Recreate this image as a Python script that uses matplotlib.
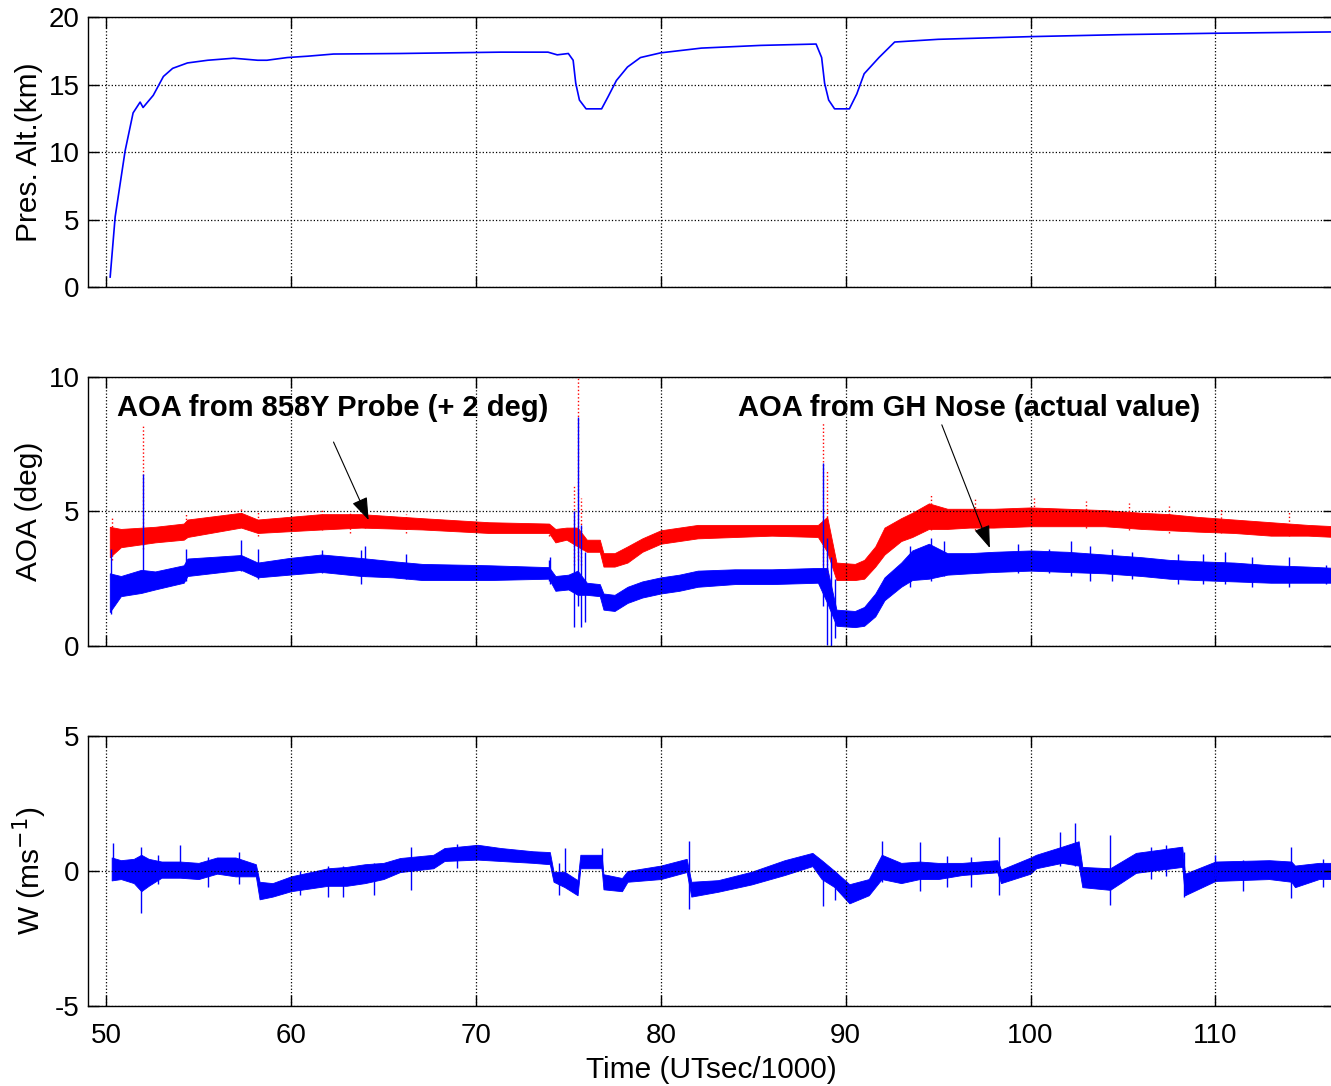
import matplotlib
matplotlib.use("Agg")
import matplotlib.pyplot as plt

plt.rcParams['font.family'] = ['Liberation Sans', 'DejaVu Sans']
plt.rcParams['font.size'] = 20
plt.rcParams['axes.unicode_minus'] = False

# pressure altitude (km) vs time (UTsec/1000)
alt_t = [50.22, 50.49, 51.03, 51.46, 51.84, 52.0, 52.55, 53.1, 53.6, 54.4, 55.5, 56.9, 58.2, 58.7,
         59.8, 60.9, 62.3, 65.9, 71.35, 73.9, 74.4, 75.0, 75.26, 75.4, 75.6, 75.96, 76.8, 77.15,
         77.6, 78.2, 78.9, 80.0, 82.2, 85.4, 88.4, 88.7, 88.86, 89.08, 89.4, 90.2, 90.6, 91.0,
         91.8, 92.65, 95.0, 100.0, 105.0, 110.0, 116.5]
alt_v = [0.74, 5.2, 10.1, 12.9, 13.7, 13.3, 14.2, 15.6, 16.2, 16.6, 16.8, 16.95, 16.8, 16.8,
         17.0, 17.1, 17.26, 17.3, 17.4, 17.4, 17.2, 17.3, 16.8, 15.1, 13.85, 13.2, 13.2, 14.1,
         15.3, 16.3, 17.0, 17.35, 17.7, 17.9, 18.0, 17.0, 15.1, 13.85, 13.2, 13.2, 14.3, 15.8,
         17.0, 18.15, 18.35, 18.55, 18.7, 18.8, 18.9]

# AOA from GH nose (blue band: low/high envelope of the noisy trace)
gh_t = [50.2, 50.8, 51.9, 52.65, 54.2, 54.4, 57.3, 58.2, 59.9, 61.65, 63.8, 65.5, 67.1, 70.7,
        73.95, 74.3, 75.0, 75.5, 76.0, 76.7, 76.9, 77.5, 78.2, 79.0, 80.0, 81.0, 82.0, 84.0,
        86.0, 88.5, 89.0, 89.5, 90.5, 91.0, 91.6, 92.1, 93.0, 93.6, 94.5, 95.5, 96.7, 98.0,
        100.0, 102.0, 104.0, 106.0, 107.5, 109.0, 111.0, 113.0, 115.0, 116.5]
gh_lo = [1.26, 1.85, 1.97, 2.1, 2.35, 2.6, 2.83, 2.55, 2.65, 2.75, 2.6, 2.55, 2.45, 2.45,
         2.5, 2.05, 2.1, 1.9, 1.9, 1.85, 1.35, 1.3, 1.6, 1.8, 1.95, 2.05, 2.2, 2.3,
         2.3, 2.35, 1.6, 0.75, 0.7, 0.75, 1.1, 1.7, 2.2, 2.45, 2.5, 2.65, 2.7, 2.75,
         2.8, 2.75, 2.7, 2.6, 2.5, 2.45, 2.4, 2.35, 2.35, 2.35]
gh_hi = [2.7, 2.6, 2.83, 2.77, 3.0, 3.25, 3.38, 3.1, 3.27, 3.4, 3.27, 3.15, 3.05, 3.0,
         2.93, 2.6, 2.65, 2.8, 2.35, 2.3, 1.95, 1.9, 2.2, 2.4, 2.55, 2.65, 2.8, 2.85,
         2.85, 2.9, 2.9, 1.35, 1.3, 1.45, 1.95, 2.55, 3.1, 3.55, 3.8, 3.45, 3.45, 3.5,
         3.55, 3.5, 3.4, 3.3, 3.2, 3.15, 3.1, 3.0, 2.95, 2.9]
gh_spk_t = [50.25, 52.0, 54.3, 57.3, 58.2, 61.65, 63.8, 64.0, 66.2, 73.95, 74.0, 75.3, 75.5,
            75.7, 75.9, 88.8, 89.0, 89.2, 89.4, 93.5, 94.6, 95.3, 99.3, 101.0, 102.2, 103.2,
            104.4, 105.5, 108.0, 109.3, 110.5, 112.0, 114.0, 116.0]
gh_spk_lo = [1.2, 2.0, 2.4, 2.8, 2.5, 2.7, 2.3, 2.6, 2.5, 2.4, 2.3, 0.7, 1.5,
             0.7, 0.9, 1.5, 0.05, 0.0, 0.3, 2.2, 2.4, 2.6, 2.7, 2.7, 2.6, 2.4,
             2.4, 2.5, 2.3, 2.3, 2.3, 2.2, 2.2, 2.3]
gh_spk_hi = [3.6, 6.4, 3.6, 3.95, 3.6, 3.55, 3.55, 3.7, 3.4, 3.2, 3.3, 5.0, 8.5,
             4.5, 3.5, 6.8, 4.0, 3.3, 2.5, 3.7, 4.0, 3.9, 3.8, 3.6, 3.9, 3.7,
             3.6, 3.5, 3.4, 3.4, 3.5, 3.3, 3.3, 3.0]

# AOA from 858Y probe (+2 deg) (red band)
pr_t = [50.2, 50.8, 52.65, 54.2, 54.4, 57.3, 58.2, 61.65, 63.8, 67.1, 70.7, 73.95, 74.3, 74.9,
        75.5, 76.0, 76.7, 76.9, 77.5, 78.2, 79.0, 80.0, 82.0, 84.0, 86.0, 88.5, 89.0, 89.5,
        90.5, 91.0, 91.6, 92.1, 93.0, 93.6, 94.5, 95.5, 96.7, 98.0, 100.0, 102.0, 104.0, 106.0,
        107.5, 109.0, 111.0, 113.0, 115.0, 116.5]
pr_lo = [3.3, 3.67, 3.85, 3.95, 4.05, 4.4, 4.2, 4.33, 4.4, 4.33, 4.2, 4.2, 3.85, 3.95,
         3.7, 3.5, 3.5, 2.95, 2.95, 3.1, 3.5, 3.8, 4.0, 4.05, 4.1, 4.05, 3.5, 2.45,
         2.45, 2.5, 2.95, 3.4, 3.9, 4.05, 4.35, 4.35, 4.4, 4.4, 4.45, 4.45, 4.45, 4.35,
         4.3, 4.25, 4.2, 4.1, 4.1, 4.05]
pr_hi = [4.43, 4.35, 4.43, 4.55, 4.7, 4.95, 4.7, 4.9, 4.9, 4.75, 4.6, 4.55, 4.35, 4.4,
         4.4, 3.95, 3.95, 3.45, 3.45, 3.7, 4.0, 4.3, 4.5, 4.5, 4.5, 4.5, 4.8, 3.1,
         3.05, 3.2, 3.7, 4.4, 4.75, 4.95, 5.3, 5.1, 5.1, 5.1, 5.15, 5.1, 5.05, 4.95,
         4.9, 4.8, 4.7, 4.6, 4.5, 4.45]
pr_spk_t = [50.3, 52.0, 54.3, 57.3, 58.2, 61.65, 63.2, 64.0, 66.2, 73.95, 75.3, 75.5, 75.7,
            88.8, 89.0, 94.6, 97.0, 100.2, 103.0, 105.3, 107.5, 110.3, 114.0]
pr_spk_lo = [3.2, 3.6, 4.0, 4.5, 4.1, 4.3, 4.2, 4.4, 4.2, 4.1, 3.0, 3.2, 3.0,
             3.0, 2.6, 4.3, 4.3, 4.5, 4.4, 4.3, 4.2, 4.2, 4.1]
pr_spk_hi = [4.8, 8.2, 4.9, 5.1, 5.0, 5.1, 5.0, 5.2, 4.9, 4.6, 6.0, 10.0, 5.5,
             8.3, 6.5, 5.6, 5.5, 5.5, 5.4, 5.3, 5.2, 5.1, 5.0]

# vertical wind W (m/s) (blue band)
w_t = [50.3, 50.8, 51.5, 51.9, 52.3, 53.0, 54.0, 55.0, 56.0, 57.0, 58.1, 58.3, 59.0, 60.0,
       61.0, 62.0, 63.0, 64.0, 65.0, 65.9, 67.7, 68.3, 70.1, 71.35, 73.1, 74.0, 74.2, 74.8,
       75.5, 75.65, 76.8, 76.9, 77.9, 78.2, 80.0, 81.4, 81.65, 83.1, 84.9, 86.7, 88.2, 88.7,
       89.4, 90.2, 91.25, 91.95, 93.0, 94.0, 95.0, 96.3, 98.2, 98.4, 100.0, 100.3, 101.7,
       102.6, 102.8, 104.3, 105.7, 108.2, 108.35, 110.0, 112.9, 114.1, 114.3, 115.6, 116.5]
w_lo = [-0.35, -0.3, -0.45, -0.75, -0.55, -0.25, -0.25, -0.3, -0.1, -0.2, -0.2, -1.05, -0.95,
        -0.75, -0.65, -0.55, -0.55, -0.45, -0.3, -0.04, 0.1, 0.37, 0.42, 0.37, 0.3, 0.25, -0.4,
        -0.6, -0.9, 0.1, 0.1, -0.68, -0.75, -0.4, -0.3, -0.04, -0.95, -0.77, -0.5, -0.15, 0.18,
        -0.3, -0.6, -1.2, -0.9, -0.3, -0.45, -0.3, -0.3, -0.15, -0.05, -0.45, -0.1, 0.1, 0.3,
        0.2, -0.6, -0.7, -0.07, 0.15, -0.9, -0.37, -0.3, -0.4, -0.6, -0.3, -0.3]
w_hi = [0.5, 0.4, 0.45, 0.6, 0.45, 0.35, 0.35, 0.3, 0.5, 0.5, 0.25, -0.4, -0.45,
        -0.2, -0.05, 0.1, 0.15, 0.25, 0.3, 0.48, 0.6, 0.85, 0.97, 0.85, 0.73, 0.7, -0.03,
        -0.03, -0.34, 0.6, 0.6, -0.12, -0.26, 0.0, 0.2, 0.45, -0.4, -0.34, -0.03, 0.4, 0.67,
        0.4, 0.0, -0.49, -0.3, 0.6, 0.3, 0.35, 0.3, 0.3, 0.4, 0.05, 0.5, 0.6, 0.9,
        1.1, 0.15, 0.1, 0.67, 0.9, -0.1, 0.35, 0.4, 0.35, 0.2, 0.3, 0.3]
w_spk_t = [50.35, 51.9, 52.8, 54.0, 55.5, 57.2, 60.5, 62.0, 62.8, 64.5, 66.5, 69.0, 74.5,
           74.8, 76.8, 81.5, 88.8, 89.4, 91.95, 94.0, 95.5, 96.8, 98.3, 101.6, 102.4, 104.3,
           106.5, 107.3, 108.3, 110.0, 111.5, 114.1, 115.8]
w_spk_lo = [-0.3, -1.57, -0.5, -0.2, -0.6, -0.5, -0.9, -0.95, -0.95, -0.9, -0.7, 0.1, -0.9,
            -0.5, 0.0, -1.4, -1.3, -1.07, -0.4, -0.75, -0.6, -0.6, -0.9, 0.2, 0.2, -1.25,
            -0.3, -0.2, -0.96, -0.3, -0.75, -1.0, -0.6]
w_spk_hi = [1.04, 0.9, 0.6, 0.98, 0.5, 0.7, 0.0, 0.2, 0.2, 0.3, 0.9, 1.0, 0.3,
            0.85, 0.84, 1.1, 0.3, 0.0, 1.1, 1.07, 0.55, 0.5, 1.26, 1.43, 1.78, 1.35,
            0.9, 0.95, 0.7, 0.6, 0.4, 0.9, 0.45]

fig = plt.figure(figsize=(13.31, 10.86), dpi=100)
left, width = 0.0661, 0.936
ax1 = fig.add_axes([left, 0.7357, width, 0.2486])
ax2 = fig.add_axes([left, 0.4052, width, 0.2477])
ax3 = fig.add_axes([left, 0.0737, width, 0.2486])

blue = '#0000ff'
red = '#ff0000'

ax1.plot(alt_t, alt_v, color=blue, lw=1.2)
ax1.set_ylim(0, 20)
ax1.set_yticks([0, 5, 10, 15, 20])
ax1.set_ylabel('Pres. Alt.(km)', fontsize=21.5)

ax2.fill_between(pr_t, pr_lo, pr_hi, color=red, lw=0.6)
ax2.vlines(pr_spk_t, pr_spk_lo, pr_spk_hi, color=red, lw=1.0, linestyles=':')
ax2.fill_between(gh_t, gh_lo, gh_hi, color=blue, lw=0.6)
ax2.vlines(gh_spk_t, gh_spk_lo, gh_spk_hi, color=blue, lw=1.0)
ax2.set_ylim(0, 10)
ax2.set_yticks([0, 5, 10])
ax2.set_ylabel('AOA (deg)', fontsize=21.5)

arrow = dict(arrowstyle='-|>,head_length=0.7,head_width=0.25', color='black', lw=0.8,
             mutation_scale=20, shrinkA=0, shrinkB=0)
ax2.text(50.6, 8.85, 'AOA from 858Y Probe (+ 2 deg)', fontsize=21, fontweight='bold',
         va='center', ha='left')
ax2.annotate('', xy=(64.2, 4.68), xytext=(62.3, 7.58), arrowprops=arrow)
ax2.text(84.2, 8.85, 'AOA from GH Nose (actual value)', fontsize=21, fontweight='bold',
         va='center', ha='left')
ax2.annotate('', xy=(97.8, 3.64), xytext=(95.2, 8.22), arrowprops=arrow)

ax3.fill_between(w_t, w_lo, w_hi, color=blue, lw=0.6)
ax3.vlines(w_spk_t, w_spk_lo, w_spk_hi, color=blue, lw=1.0)
ax3.set_ylim(-5, 5)
ax3.set_yticks([-5, 0, 5])
ax3.set_ylabel('W (ms$^{-1}$)', fontsize=21.5)
ax3.set_xlabel('Time (UTsec/1000)', fontsize=21.5, labelpad=5)

for ax in (ax1, ax2, ax3):
    ax.set_xlim(49.02, 116.4)
    ax.set_xticks([50, 60, 70, 80, 90, 100, 110])
    ax.grid(True, linestyle=':', color='black', lw=0.9)
    ax.tick_params(direction='in', top=True, right=True, length=8, width=1)
    ax.tick_params(axis='y', pad=6)
    ax.tick_params(axis='x', pad=12)
    for s in ax.spines.values():
        s.set_linewidth(1.0)
ax1.tick_params(labelbottom=False)
ax2.tick_params(labelbottom=False)

fig.savefig('out.png', dpi=100)
